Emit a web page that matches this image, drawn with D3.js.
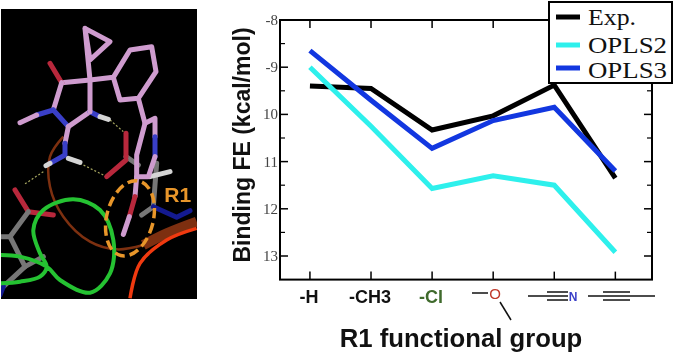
<!DOCTYPE html>
<html><head><meta charset="utf-8">
<script src="https://cdn.jsdelivr.net/npm/d3@7/dist/d3.min.js"></script>
<style>html,body{margin:0;padding:0;background:#fff}svg{display:block}</style>
</head><body><svg id="c" width="673" height="354"></svg>
<script>
const categories = ["-H","-CH3","-Cl","methoxy","cyano","propynyl"];
const expValues = [9.4,9.45,10.33,10.03,9.38,11.35];
const opls2Values = [9.0,10.25,11.57,11.3,11.5,12.92];
const opls3Values = [8.65,9.7,10.72,10.13,9.85,11.2];
const seriesNames = ["Exp.","OPLS2","OPLS3"];
const seriesColors = ["#000000","#2ef0ec","#1237e0"];
const yTicks = [8,9,10,11,12,13];
const yLabels = ["-8","-9","10","11","12","13"];

const svg = d3.select("#c");
const x = d3.scaleLinear().domain([-0.49,5.6]).range([280,652]);
const y = d3.scaleLinear().domain([8,13]).range([20,256]);
const yMax = 13.5;

// illustration panel
const px = d3.scaleLinear().domain([0,675]).range([0,225]);
const pink="#cf9ccf", blue="#3a3fc8", red="#b8283c", white="#d5d5d5", gray="#777777", navy="#141a90";
const sticks = [
 [gray,[[378,470],[415,495]]],[red,[[378,400],[378,470]]],[red,[[378,480],[320,530]]],
 [red,[[45,570],[85,635]]],[red,[[85,635],[160,645]]],[gray,[[85,635],[30,710],[0,710]]],
 [gray,[[30,710],[75,800],[130,770]]],[gray,[[75,800],[10,860]]],[navy,[[10,860],[0,885]]],
 [gray,[[470,490],[460,620],[425,645]]],[white,[[450,530],[510,515]]],[navy,[[460,620],[530,652],[570,632]]],
 [pink,[[255,85],[330,125],[270,180],[255,85],[270,240]]],
 [pink,[[270,240],[185,248]]],[red,[[185,248],[150,190]]],
 [pink,[[185,248],[160,330]]],[blue,[[160,330],[110,345]]],[pink,[[110,345],[60,368]]],
 [blue,[[160,330],[205,380]]],[pink,[[205,380],[270,335]]],[blue,[[270,335],[300,350]]],[pink,[[270,335],[270,240]]],
 [white,[[300,350],[325,358]]],[pink,[[205,380],[195,430]]],[blue,[[195,430],[195,465],[150,490]]],[white,[[150,490],[138,497]]],[white,[[205,475],[240,487]]],
 [pink,[[270,240],[340,232],[360,300],[415,295],[468,215],[455,140],[390,150],[340,232]]],
 [pink,[[415,295],[435,370],[465,355],[465,410]]],[blue,[[465,410],[465,470]]],[pink,[[465,470],[445,530],[410,530],[410,465],[435,370]]],
 [pink,[[410,530],[405,590]]],[red,[[405,590],[388,650]]],[pink,[[388,650],[370,703]]]
];
const ribbons = [
 ["#7d3010",2.5,[[190,410],[150,470],[150,560],[190,650],[270,725],[350,748],[430,735]]],
 ["#7d2f10",10,[[430,735],[500,700],[590,665]]],
 ["#f03a10",3.5,[[390,895],[420,790],[500,720],[590,685]]],
 ["#25c232",4,[[0,765],[60,770],[140,800],[180,840],[270,878],[330,820],[340,720],[300,630],[220,598],[130,630],[100,690],[120,760],[140,800],[120,830],[60,845],[0,850]]]
];
const hbonds = [[[330,360],[370,395]],[[240,490],[310,525]],[[130,515],[70,555]]];
const panel = svg.append("g").attr("style","filter:blur(0.6px)");
svg.append("clipPath").attr("id","p").append("rect").attr("x",1).attr("y",9).attr("width",196).attr("height",290);
panel.append("rect").attr("x",1).attr("y",9).attr("width",196).attr("height",290).attr("fill","#000");
const mol = panel.append("g").attr("clip-path","url(#p)");
const curve = d3.line().x(d=>px(d[0])).y(d=>px(d[1])).curve(d3.curveCatmullRom);
const straight = d3.line().x(d=>px(d[0])).y(d=>px(d[1]));
ribbons.slice(0,3).forEach(r=>mol.append("path").attr("d",curve(r[2])).attr("fill","none").attr("stroke",r[0]).attr("stroke-width",r[1]));
hbonds.forEach(h=>mol.append("path").attr("d",straight(h)).attr("fill","none").attr("stroke","#a8a860").attr("stroke-width",1.2).attr("stroke-dasharray","2 2"));
sticks.forEach(s=>mol.append("path").attr("d",straight(s[1])).attr("fill","none").attr("stroke",s[0]).attr("stroke-width",5).attr("stroke-linecap","round").attr("stroke-linejoin","round"));
mol.append("path").attr("d",curve(ribbons[3][2])).attr("fill","none").attr("stroke",ribbons[3][0]).attr("stroke-width",ribbons[3][1]);
mol.append("ellipse").attr("transform",`translate(${px(390)},${px(655)}) rotate(14)`).attr("rx",px(70)).attr("ry",px(115))
  .attr("fill","none").attr("stroke","#e8962a").attr("stroke-width",3.5).attr("stroke-dasharray","10 5");
panel.append("text").attr("x",px(493)).attr("y",px(606)).attr("font-family","Liberation Sans").attr("font-weight","bold").attr("font-size",21).attr("fill","#e8962a").text("R1");

// frame and ticks
const sansB = "Liberation Sans";
const chart = svg.append("g").attr("style","filter:blur(0.3px)");
const frame = chart.append("g");
frame.append("rect").attr("x",x.range()[0]).attr("y",y(8)).attr("width",x.range()[1]-x.range()[0]).attr("height",y(yMax)-y(8))
  .attr("fill","none").attr("stroke","#000").attr("stroke-width",2);
const tickLen = 8, minor = [8.5,9.5,10.5,11.5,12.5];
yTicks.forEach((t,i)=>{
  frame.append("line").attr("x1",280).attr("x2",280+tickLen).attr("y1",y(t)).attr("y2",y(t)).attr("stroke","#000").attr("stroke-width",1.5);
  frame.append("line").attr("x1",652).attr("x2",652-tickLen).attr("y1",y(t)).attr("y2",y(t)).attr("stroke","#000").attr("stroke-width",1.5);
  frame.append("text").attr("x",278).attr("y",y(t)+5).attr("text-anchor","end").attr("font-family","Liberation Serif").attr("font-size",15).attr("fill","#444").text(yLabels[i]);
});
minor.forEach(t=>{
  frame.append("line").attr("x1",280).attr("x2",285).attr("y1",y(t)).attr("y2",y(t)).attr("stroke","#000").attr("stroke-width",1.2);
  frame.append("line").attr("x1",652).attr("x2",647).attr("y1",y(t)).attr("y2",y(t)).attr("stroke","#000").attr("stroke-width",1.2);
});
categories.forEach((c,i)=>{
  frame.append("line").attr("x1",x(i)).attr("x2",x(i)).attr("y1",y(yMax)).attr("y2",y(yMax)-8).attr("stroke","#000").attr("stroke-width",1.5);
  frame.append("line").attr("x1",x(i)).attr("x2",x(i)).attr("y1",y(8)).attr("y2",y(8)+8).attr("stroke","#000").attr("stroke-width",1.5);
});

// series
const line = d3.line().x((d,i)=>x(i)).y(d=>y(d));
[expValues,opls2Values,opls3Values].forEach((v,i)=>{
  chart.append("path").attr("d",line(v)).attr("fill","none").attr("stroke",seriesColors[i]).attr("stroke-width",5).attr("stroke-linejoin","miter");
});

// category labels
const lab = chart.append("g");
const labelY = 303;
[["-H",0,"#111"],["-CH3",1,"#111"],["-Cl",2,"#3f6a2c"]].forEach(d=>{
  lab.append("text").attr("x",x(d[1])-1).attr("y",labelY).attr("text-anchor","middle").attr("font-family",sansB).attr("font-weight","bold").attr("font-size",18).attr("fill",d[2]).text(d[0]);
});
// chemical structure glyphs
const glyph = (x1,x2,yy,w=1.5)=>lab.append("line").attr("x1",x1).attr("x2",x2).attr("y1",yy).attr("y2",yy).attr("stroke","#111").attr("stroke-width",w);
glyph(472,488,293);
lab.append("text").attr("x",495).attr("y",298.5).attr("text-anchor","middle").attr("font-family",sansB).attr("font-size",15).attr("fill","#c0392b").text("O");
lab.append("line").attr("x1",500).attr("y1",302).attr("x2",511).attr("y2",320).attr("stroke","#111").attr("stroke-width",1.5);
glyph(528,547,296); [292,296,300].forEach(t=>glyph(547,568,t));
lab.append("text").attr("x",573).attr("y",301).attr("text-anchor","middle").attr("font-family",sansB).attr("font-weight","bold").attr("font-size",12).attr("fill","#3a3fc8").text("N");
glyph(588,603,296); [292,296,300].forEach(t=>glyph(603,630,t)); glyph(630,655,296);

// axis titles
chart.append("text").attr("x",461).attr("y",347).attr("text-anchor","middle").attr("font-family",sansB).attr("font-weight","bold").attr("font-size",25.7).attr("fill","#111").text("R1 functional group");
chart.append("text").attr("transform","translate(250,145) rotate(-90)").attr("text-anchor","middle").attr("font-family",sansB).attr("font-weight","bold").attr("font-size",23).attr("fill","#111").text("Binding FE (kcal/mol)");

// legend
const lg = chart.append("g");
lg.append("rect").attr("x",549).attr("y",2).attr("width",123).attr("height",81).attr("fill","#fff").attr("stroke","#000").attr("stroke-width",2);
const legendRows = [17,45,68], legendBase = [25,53,78], legendWidths = [48,79,79];
seriesNames.forEach((n,i)=>{
  const yy = legendRows[i];
  lg.append("line").attr("x1",556).attr("x2",580).attr("y1",yy).attr("y2",yy).attr("stroke",seriesColors[i]).attr("stroke-width",5);
  lg.append("text").attr("x",588).attr("y",legendBase[i]).attr("font-family","Liberation Serif").attr("font-size",23.5)
    .attr("textLength",legendWidths[i]).attr("lengthAdjust","spacingAndGlyphs").attr("fill","#111").text(n);
});
</script></body></html>
